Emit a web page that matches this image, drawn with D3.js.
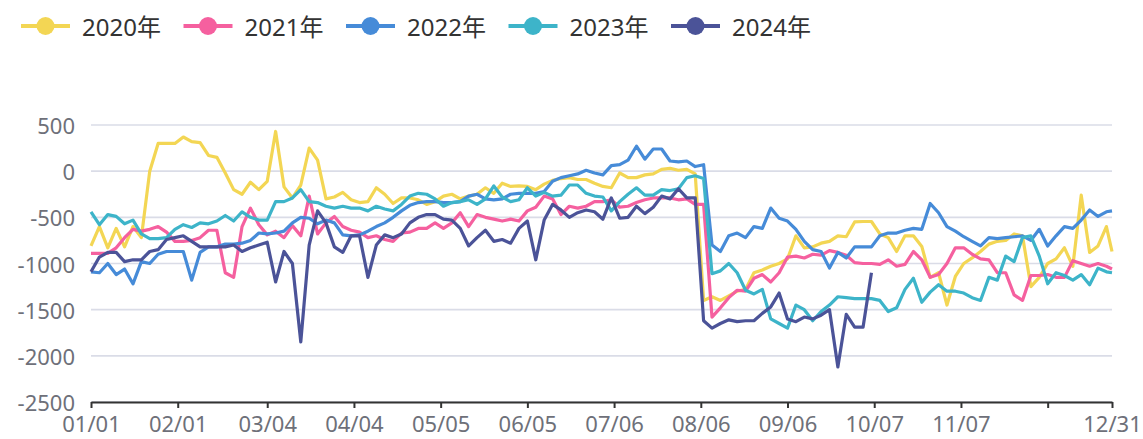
<!DOCTYPE html>
<html>
<head>
<meta charset="utf-8">
<script src="https://cdn.jsdelivr.net/npm/d3@7/dist/d3.min.js"></script>
<style>
body{margin:0;background:#fff;}
text{font-family:"Noto Sans","Noto Sans CJK SC",sans-serif;}
</style>
</head>
<body>
<div id="chart"></div>
<script>
// series names + colours
var years = ["2020年","2021年","2022年","2023年","2024年"];
var colors = ["#f3d654","#f5609f","#468bd8","#3db4c9","#4b5398"];

// y axis ticks
var yTicks = [500,0,-500,-1000,-1500,-2000,-2500];

// x ticks (12/08 has a tick but no label)
var xTickLabels = ["01/01","02/01","03/04","04/04","05/05","06/05","07/06","08/06","09/06","10/07","11/07","12/08","12/31"];
var hiddenLabels = ["12/08"];

// values read every 3rd day (01/01, 01/04, ... 12/29) plus 12/31
var v2020 = [-810,-600,-830,-620,-820,-600,-720,0,300,300,300,370,320,310,170,150,-20,-200,-250,-120,-200,-110,430,-170,-290,
  -150,250,120,-300,-280,-230,-310,-340,-330,-180,-250,-350,-290,-290,-310,-360,-330,-270,-250,-300,-270,-250,-180,-240,-130,
  -165,-160,-165,-200,-140,-100,-80,-70,-90,-90,-130,-165,-180,-20,-70,-70,-40,-30,20,30,10,20,-30,
  -1400,-1360,-1400,-1350,-1300,-1280,-1100,-1070,-1030,-1000,-950,-700,-830,-820,-780,-760,-700,-710,-550,-545,-545,-680,-720,-870,-700,
  -700,-815,-1150,-1100,-1450,-1140,-1000,-940,-870,-790,-760,-750,-680,-700,-1250,-1150,-1000,-950,-830,-1030,-260,-880,-810,-600,-870];
var v2021 = [-890,-890,-890,-830,-720,-630,-650,-630,-600,-660,-760,-760,-750,-720,-640,-640,-1100,-1150,-600,-400,-580,-690,-650,-720,-590,
  -700,-270,-680,-560,-490,-600,-640,-660,-720,-700,-740,-760,-670,-660,-620,-620,-560,-620,-560,-450,-600,-470,-500,-520,-540,
  -520,-540,-430,-390,-270,-300,-470,-380,-400,-380,-330,-330,-310,-390,-380,-340,-310,-290,-290,-290,-310,-300,-360,-360,
  -1580,-1480,-1370,-1290,-1300,-1160,-1120,-1200,-1100,-930,-920,-940,-900,-910,-860,-880,-910,-990,-1000,-1000,-1010,-960,-1030,-1010,
  -870,-960,-1150,-1120,-1000,-830,-830,-900,-950,-960,-1100,-1100,-1340,-1400,-1130,-1130,-1120,-1150,-1150,-970,-1000,-1030,-1000,-1030,-1060];
var v2022 = [-1090,-1100,-1000,-1120,-1060,-1220,-980,-1000,-900,-870,-870,-870,-1180,-880,-820,-820,-790,-790,-780,-750,-670,-680,-670,-650,-560,
  -500,-510,-570,-530,-560,-690,-700,-690,-650,-600,-560,-500,-430,-370,-340,-330,-330,-340,-340,-330,-270,-250,-300,-310,-300,
  -250,-240,-240,-240,-220,-110,-70,-50,-30,10,-20,-40,60,70,120,270,130,240,240,110,100,110,50,70,
  -800,-870,-700,-670,-720,-600,-620,-400,-510,-540,-630,-760,-850,-870,-1050,-880,-940,-820,-820,-820,-700,-670,-670,-640,
  -620,-630,-350,-450,-600,-650,-710,-760,-810,-720,-730,-720,-710,-700,-750,-630,-810,-700,-600,-620,-530,-420,-490,-440,-430];
var v2023 = [-440,-580,-470,-490,-570,-530,-680,-730,-730,-720,-630,-580,-610,-560,-570,-540,-480,-540,-440,-500,-530,-530,-330,-330,-290,
  -200,-330,-340,-380,-400,-380,-400,-400,-430,-380,-410,-430,-360,-270,-240,-250,-300,-380,-340,-330,-310,-360,-300,-160,-280,
  -330,-310,-180,-270,-230,-270,-260,-150,-150,-240,-270,-280,-430,-330,-250,-180,-260,-260,-200,-210,-190,-70,-50,-80,
  -1110,-1080,-1000,-1100,-1290,-1330,-1280,-1600,-1650,-1700,-1450,-1500,-1620,-1520,-1450,-1360,-1370,-1380,-1380,-1380,-1400,-1520,-1480,-1280,
  -1160,-1420,-1310,-1230,-1300,-1300,-1320,-1370,-1400,-1150,-1180,-920,-980,-720,-700,-920,-1220,-1100,-1130,-1180,-1120,-1230,-1050,-1090,-1100];
var v2024 = [-1090,-930,-880,-880,-980,-960,-960,-870,-850,-740,-720,-700,-760,-820,-820,-820,-820,-800,-870,-830,-800,-770,-1200,-870,-1000,
  -1850,-800,-430,-560,-820,-880,-700,-700,-1150,-800,-690,-720,-680,-560,-500,-470,-470,-520,-530,-620,-810,-720,-640,-760,-740,
  -780,-620,-540,-960,-530,-360,-420,-500,-450,-420,-440,-520,-290,-510,-500,-380,-460,-390,-270,-300,-190,-290,-290,-1620,
  -1700,-1650,-1610,-1630,-1620,-1620,-1540,-1470,-1320,-1600,-1630,-1580,-1600,-1560,-1500,-2120,-1550,-1690,-1690,-1100];
var allSeries = [v2020,v2021,v2022,v2023,v2024];

var w = 1143;
var h = 439;
var plot = {left:91, right:1112, top:125, bottom:402};

var days = d3.timeDays(new Date(2024,0,1), new Date(2025,0,1)).map(d3.timeFormat("%m/%d"));
var sampleDays = days.filter(function(d,i){ return i % 3 === 0; }).concat([days[days.length-1]]);

var xScale = d3.scalePoint()
  .domain(days)
  .range([plot.left, plot.right]);
var yScale = d3.scaleLinear()
  .domain([-2500, 500])
  .range([plot.bottom, plot.top]);

var svg = d3.select("#chart")
  .append("svg")
  .attr("width", w)
  .attr("height", h);

// grid
svg.append("g")
  .selectAll("line")
  .data(yTicks)
  .enter()
  .append("line")
  .attr("x1", plot.left)
  .attr("x2", plot.right)
  .attr("y1", function(d){ return yScale(d); })
  .attr("y2", function(d){ return yScale(d); })
  .attr("stroke", "#dadce7")
  .attr("stroke-width", 1.6);

// y labels
svg.append("g")
  .selectAll("text")
  .data(yTicks)
  .enter()
  .append("text")
  .text(function(d){ return d; })
  .attr("x", 75)
  .attr("y", function(d){ return yScale(d); })
  .attr("text-anchor", "end")
  .attr("dominant-baseline", "central")
  .attr("font-size", 22)
  .attr("fill", "#6e7079");

// x axis
var xAxis = d3.axisBottom(xScale)
  .tickValues(xTickLabels)
  .tickSize(6)
  .tickSizeOuter(0)
  .tickPadding(8)
  .tickFormat(function(d){ return hiddenLabels.indexOf(d) >= 0 ? "" : d; });

var gx = svg.append("g")
  .attr("transform", "translate(0," + plot.bottom + ")")
  .call(xAxis);
gx.select(".domain").attr("stroke", "#333").attr("stroke-width", 2);
gx.selectAll(".tick line").attr("stroke", "#333").attr("stroke-width", 2);
gx.selectAll(".tick text")
  .attr("font-size", 22)
  .attr("font-family", "Noto Sans, Noto Sans CJK SC, sans-serif")
  .attr("fill", "#6e7079");

// lines
var line = d3.line()
  .defined(function(d){ return d.v != null; })
  .x(function(d){ return xScale(d.day); })
  .y(function(d){ return yScale(d.v); });

allSeries.forEach(function(vals, k){
  var pts = sampleDays.map(function(day, i){ return {day:day, v:vals[i]}; });
  svg.append("path")
    .datum(pts)
    .attr("d", line)
    .attr("fill", "none")
    .attr("stroke", colors[k])
    .attr("stroke-width", 3.2)
    .attr("stroke-linejoin", "round");
});

// legend
var legend = svg.append("g")
  .selectAll("g")
  .data(years)
  .enter()
  .append("g")
  .attr("transform", function(d, i){ return "translate(" + (21 + i*162.5) + ",26)"; });
legend.append("line")
  .attr("x1", 0).attr("x2", 49)
  .attr("stroke", function(d, i){ return colors[i]; })
  .attr("stroke-width", 4);
legend.append("circle")
  .attr("cx", 24.5)
  .attr("r", 9)
  .attr("fill", function(d, i){ return colors[i]; });
legend.append("text")
  .text(function(d){ return d; })
  .attr("x", 61)
  .attr("dominant-baseline", "central")
  .attr("font-size", 24)
  .attr("fill", "#333");
</script>
</body>
</html>
